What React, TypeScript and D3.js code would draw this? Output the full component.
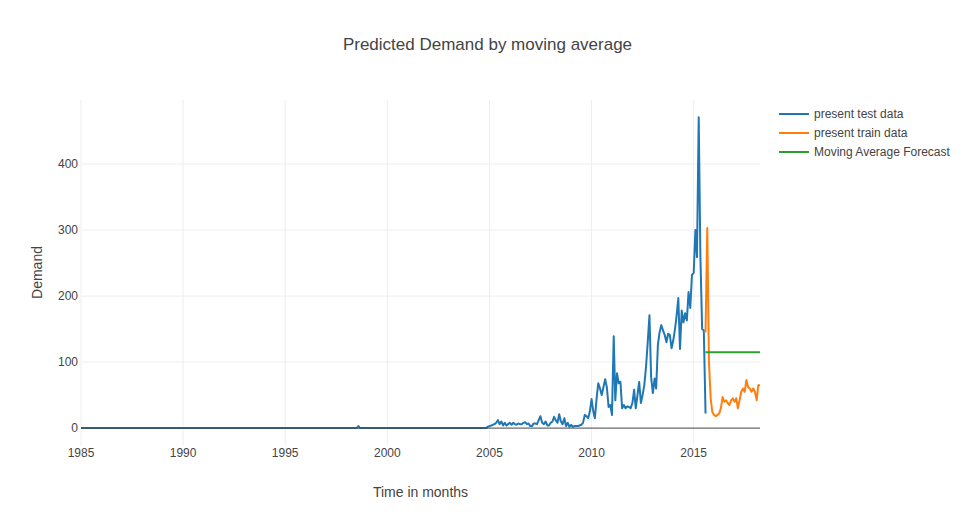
import { useEffect, useRef } from "react";
import * as d3 from "d3";

// early months are zero; only the points where the line changes are listed
const testEarly: [string, number][] = [
  ["1985-01", 0],
  ["1998-07", 0],
  ["1998-08", 3],
  ["1998-09", 0],
  ["2004-11", 0],
];

// monthly values from 2004-12 to 2015-08
const testStart = "2004-12";
const testValues = [
  2,
  // 2005
  3, 4, 5, 6, 8, 12, 6, 10, 4, 8, 4, 6,
  // 2006
  8, 5, 8, 6, 5, 7, 6, 6, 8, 9, 6, 7,
  // 2007
  3, 3, 7, 7, 6, 12, 18, 8, 6, 10, 4, 4,
  // 2008
  8, 10, 17, 12, 8, 21, 10, 6, 15, 3, 8, 2,
  // 2009
  5, 2, 3, 3, 3, 4, 5, 8, 20, 18, 15, 25,
  // 2010
  44, 25, 15, 45, 68, 60, 50, 62, 74, 62, 32, 35,
  // 2011
  20, 139, 42, 83, 68, 70, 30, 35, 30, 33, 32, 30,
  // 2012
  38, 58, 30, 50, 70, 38, 50, 65, 93, 130, 171, 77,
  // 2013
  53, 75, 60, 126, 145, 156, 148, 141, 130, 143, 141, 121,
  // 2014
  133, 150, 170, 197, 120, 178, 160, 174, 163, 206, 182, 232,
  // 2015
  235, 300, 259, 471, 260, 150, 148, 22,
];

// monthly values from 2015-08 to 2018-04
const trainStart = "2015-08";
const trainValues = [
  145, 303, 100, 45, 24,
  // 2016
  20, 18, 20, 22, 30, 47, 40, 42, 38, 35, 42, 45,
  // 2017
  40, 45, 30, 42, 55, 60, 55, 73, 62, 60, 55, 60,
  // 2018
  55, 42, 65, 65,
];

const forecastSeries: [string, number][] = [
  ["2015-08", 115],
  ["2018-04", 115],
];

const yTicks = [0, 100, 200, 300, 400];
const xTickYears = [1985, 1990, 1995, 2000, 2005, 2010, 2015];

const legendItems = [
  { label: "present test data", color: "#1f77b4" },
  { label: "present train data", color: "#ff7f0e" },
  { label: "Moving Average Forecast", color: "#2ca02c" },
];

const parseMonth = d3.timeParse("%Y-%m");

type Pt = { date: Date; value: number };

function monthly(start: string, values: number[]): Pt[] {
  const s = parseMonth(start)!;
  return values.map((v, i) => ({ date: d3.timeMonth.offset(s, i), value: v }));
}

export default function App() {
  const svgRef = useRef<SVGSVGElement>(null);

  useEffect(() => {
    const svg = d3.select(svgRef.current!);
    svg.selectAll("*").remove();

    const width = 975;
    const height = 525;
    const left = 81;
    const right = 760;
    const top = 100;
    const bottom = 445;
    const font = "'Liberation Sans', Arial, sans-serif";

    const test: Pt[] = [
      ...testEarly.map(([m, v]) => ({ date: parseMonth(m)!, value: v })),
      ...monthly(testStart, testValues),
    ];
    const train = monthly(trainStart, trainValues);
    const forecast = forecastSeries.map(([m, v]) => ({ date: parseMonth(m)!, value: v }));

    const x = d3
      .scaleTime()
      .domain([parseMonth("1985-01")!, parseMonth("2018-04")!])
      .range([left, right]);
    const y = d3.scaleLinear().domain([-25.6, 497]).range([bottom, top]);

    svg.append("rect").attr("width", width).attr("height", height).attr("fill", "#fff");

    // grid
    const grid = svg.append("g");
    grid
      .selectAll(".vg")
      .data(xTickYears)
      .join("line")
      .attr("x1", (d) => x(new Date(d, 0, 1)))
      .attr("x2", (d) => x(new Date(d, 0, 1)))
      .attr("y1", top)
      .attr("y2", bottom)
      .attr("stroke", "#eee")
      .attr("stroke-width", 1);
    grid
      .selectAll(".hg")
      .data(yTicks.filter((t) => t !== 0))
      .join("line")
      .attr("x1", left)
      .attr("x2", right)
      .attr("y1", (d) => y(d))
      .attr("y2", (d) => y(d))
      .attr("stroke", "#eee")
      .attr("stroke-width", 1);

    // tick labels
    svg
      .append("g")
      .selectAll("text")
      .data(yTicks)
      .join("text")
      .attr("x", left - 3)
      .attr("y", (d) => y(d) + 4)
      .attr("text-anchor", "end")
      .attr("font-family", font)
      .attr("font-size", 12)
      .attr("fill", "#444")
      .text((d) => d);
    svg
      .append("g")
      .selectAll("text")
      .data(xTickYears)
      .join("text")
      .attr("x", (d) => x(new Date(d, 0, 1)))
      .attr("y", bottom + 12)
      .attr("text-anchor", "middle")
      .attr("font-family", font)
      .attr("font-size", 12)
      .attr("fill", "#444")
      .text((d) => d);

    const line = d3
      .line<Pt>()
      .x((d) => x(d.date))
      .y((d) => y(d.value));

    const series = [test, train, forecast];
    series.forEach((s, i) => {
      svg
        .append("path")
        .datum(s)
        .attr("d", line)
        .attr("fill", "none")
        .attr("stroke", legendItems[i].color)
        .attr("stroke-width", 2)
        .attr("stroke-linejoin", "round");
    });

    // zero line
    svg
      .append("line")
      .attr("x1", left)
      .attr("x2", right)
      .attr("y1", y(0))
      .attr("y2", y(0))
      .attr("stroke", "#444")
      .attr("stroke-width", 1);

    // titles
    svg
      .append("text")
      .attr("x", width / 2)
      .attr("y", 50)
      .attr("text-anchor", "middle")
      .attr("font-family", font)
      .attr("font-size", 17)
      .attr("fill", "#444")
      .text("Predicted Demand by moving average");
    svg
      .append("text")
      .attr("x", (left + right) / 2)
      .attr("y", 497)
      .attr("text-anchor", "middle")
      .attr("font-family", font)
      .attr("font-size", 14)
      .attr("fill", "#444")
      .text("Time in months");
    svg
      .append("text")
      .attr("transform", `translate(42,${(top + bottom) / 2}) rotate(-90)`)
      .attr("text-anchor", "middle")
      .attr("font-family", font)
      .attr("font-size", 14)
      .attr("fill", "#444")
      .text("Demand");

    // legend
    const lg = svg.append("g").attr("transform", "translate(779,114)");
    legendItems.forEach((item, i) => {
      const row = lg.append("g").attr("transform", `translate(0,${i * 19})`);
      row
        .append("line")
        .attr("x1", 0)
        .attr("x2", 30)
        .attr("stroke", item.color)
        .attr("stroke-width", 2);
      row
        .append("text")
        .attr("x", 35)
        .attr("y", 4)
        .attr("font-family", font)
        .attr("font-size", 12)
        .attr("fill", "#444")
        .text(item.label);
    });
  }, []);

  return (
    <svg
      ref={svgRef}
      width={975}
      height={525}
      style={{ display: "block", position: "absolute", left: 0, top: 0 }}
    />
  );
}
